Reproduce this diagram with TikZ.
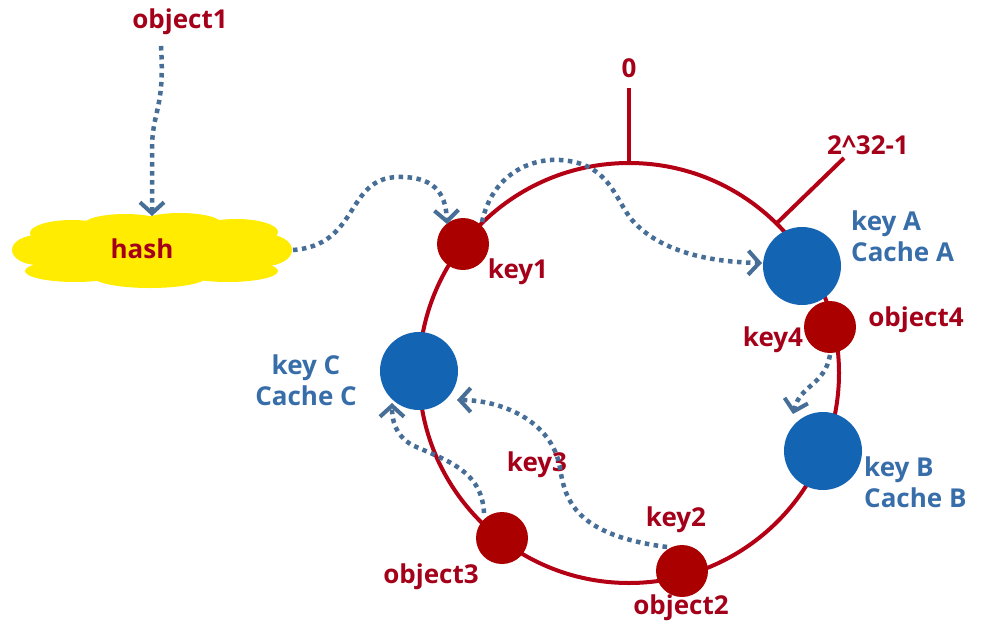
\documentclass[tikz,border=0pt]{standalone}
\usepackage{fontspec}
\setmainfont{Open Sans}
\usetikzlibrary{arrows.meta}
\definecolor{ringred}{RGB}{180,0,20}
\definecolor{dotred}{RGB}{170,0,0}
\definecolor{txtred}{RGB}{165,0,25}
\definecolor{cblue}{RGB}{20,100,180}
\definecolor{tblue}{RGB}{55,110,170}
\definecolor{arrblue}{RGB}{70,110,150}
\definecolor{cloudyel}{RGB}{255,236,0}
\tikzset{
  redtxt/.style={text=txtred,font=\bfseries\fontsize{26}{29}\selectfont,inner sep=0pt},
  bluetxt/.style={text=tblue,font=\bfseries\fontsize{26}{31}\selectfont,inner sep=0pt,align=left},
  reddot/.style={circle,fill=dotred,minimum size=52pt,inner sep=0pt},
  bluedot/.style={circle,fill=cblue,minimum size=78pt,inner sep=0pt},
  ringline/.style={draw=ringred,line width=4pt},
  flow/.style={draw=arrblue,line width=4.5pt,dash pattern=on 4.5pt off 4.5pt,
    -{Straight Barb[length=11pt,width=24pt,line width=4pt]}},
}
\begin{document}
\begin{tikzpicture}[x=1pt,y=-1pt]
\useasboundingbox (0,0) rectangle (987,640);
\fill[white] (0,0) rectangle (987,640);
% ring
\coordinate (c) at (629,373);
\draw[ringline] (c) circle[radius=210];
\coordinate (top) at (629,163);
\coordinate (topend) at (629,88);
\draw[ringline] (top) -- (topend);
\coordinate (mx) at (777,223);
\coordinate (mxend) at (844,158);
\draw[ringline] (mx) -- (mxend);
\node[redtxt] (zero) at (629,68) {0};
\node[redtxt] (maxl) at (868,145) {2\^{}32-1};
% nodes on ring
\node[reddot] (key1) at (463,244) {};
\node[bluedot] (keyA) at (802,266) {};
\node[reddot] (obj4) at (830,327) {};
\node[bluedot] (keyB) at (823,451) {};
\node[reddot] (obj2) at (682,571) {};
\node[reddot] (obj3) at (502,538) {};
\node[bluedot] (keyC) at (419,371) {};
% cloud
\fill[cloudyel]
  (152,252) ellipse[x radius=128,y radius=30]
  (38,250) ellipse[x radius=26,y radius=15]
  (265,250) ellipse[x radius=27,y radius=16]
  (72,233) ellipse[x radius=42,y radius=13]
  (125,225) ellipse[x radius=42,y radius=11]
  (180,224) ellipse[x radius=42,y radius=11]
  (236,232) ellipse[x radius=42,y radius=13]
  (75,271) ellipse[x radius=50,y radius=11]
  (150,276) ellipse[x radius=58,y radius=12]
  (228,271) ellipse[x radius=50,y radius=11];
\node[inner sep=0pt,minimum width=282pt,minimum height=74pt] (hash) at (152,251) {};
\node[redtxt] (hashl) at (142,249) {hash};
% labels
\node[redtxt] (o1) at (180,22) {object1};
\node[redtxt] (k1l) at (518,272) {key1};
\node[bluetxt,anchor=west] (kAl) at (851,236) {key A\\Cache A};
\node[bluetxt,anchor=west] (kBl) at (864,482) {key B\\Cache B};
\node[bluetxt,align=center] (kCl) at (306,380) {key C\\Cache C};
\node[redtxt] (o4l) at (916,320) {object4};
\node[redtxt] (k4l) at (773,340) {key4};
\node[redtxt] (k3l) at (537,465) {key3};
\node[redtxt] (k2l) at (676,520) {key2};
\node[redtxt] (o3l) at (431,577) {object3};
\node[redtxt] (o2l) at (681,608) {object2};
% flows
\coordinate (o1s) at (161,46);
\coordinate (hashtop) at (152,216);
\draw[flow] (o1s) .. controls (165,110) and (152,110) .. (152,150) -- (hashtop);
\coordinate (hashr) at (293,250);
\coordinate (k1top) at (447,224);
\draw[flow] (hashr) .. controls (360,245) and (345,178) .. (398,177)
  .. controls (440,176) and (446,200) .. (k1top);
\coordinate (k1s) at (482,222);
\coordinate (kAw) at (762,263);
\draw[flow] (k1s) .. controls (492,175) and (530,158) .. (560,160)
  .. controls (610,163) and (615,200) .. (632,220)
  .. controls (660,252) and (710,262) .. (kAw);
\coordinate (o4s) at (830,355);
\coordinate (kBn) at (793,414);
\draw[flow] (o4s) .. controls (825,385) and (800,385) .. (kBn);
\coordinate (o2s) at (667,547);
\coordinate (kCe) at (457,400);
\draw[flow] (o2s) .. controls (575,535) and (565,500) .. (560,468)
  .. controls (552,420) and (500,400) .. (kCe);
\coordinate (o3s) at (484,513);
\coordinate (kCs) at (392,403);
\draw[flow] (o3s) .. controls (482,470) and (445,460) .. (412,445)
  .. controls (395,435) and (392,420) .. (kCs);
\end{tikzpicture}
\end{document}
